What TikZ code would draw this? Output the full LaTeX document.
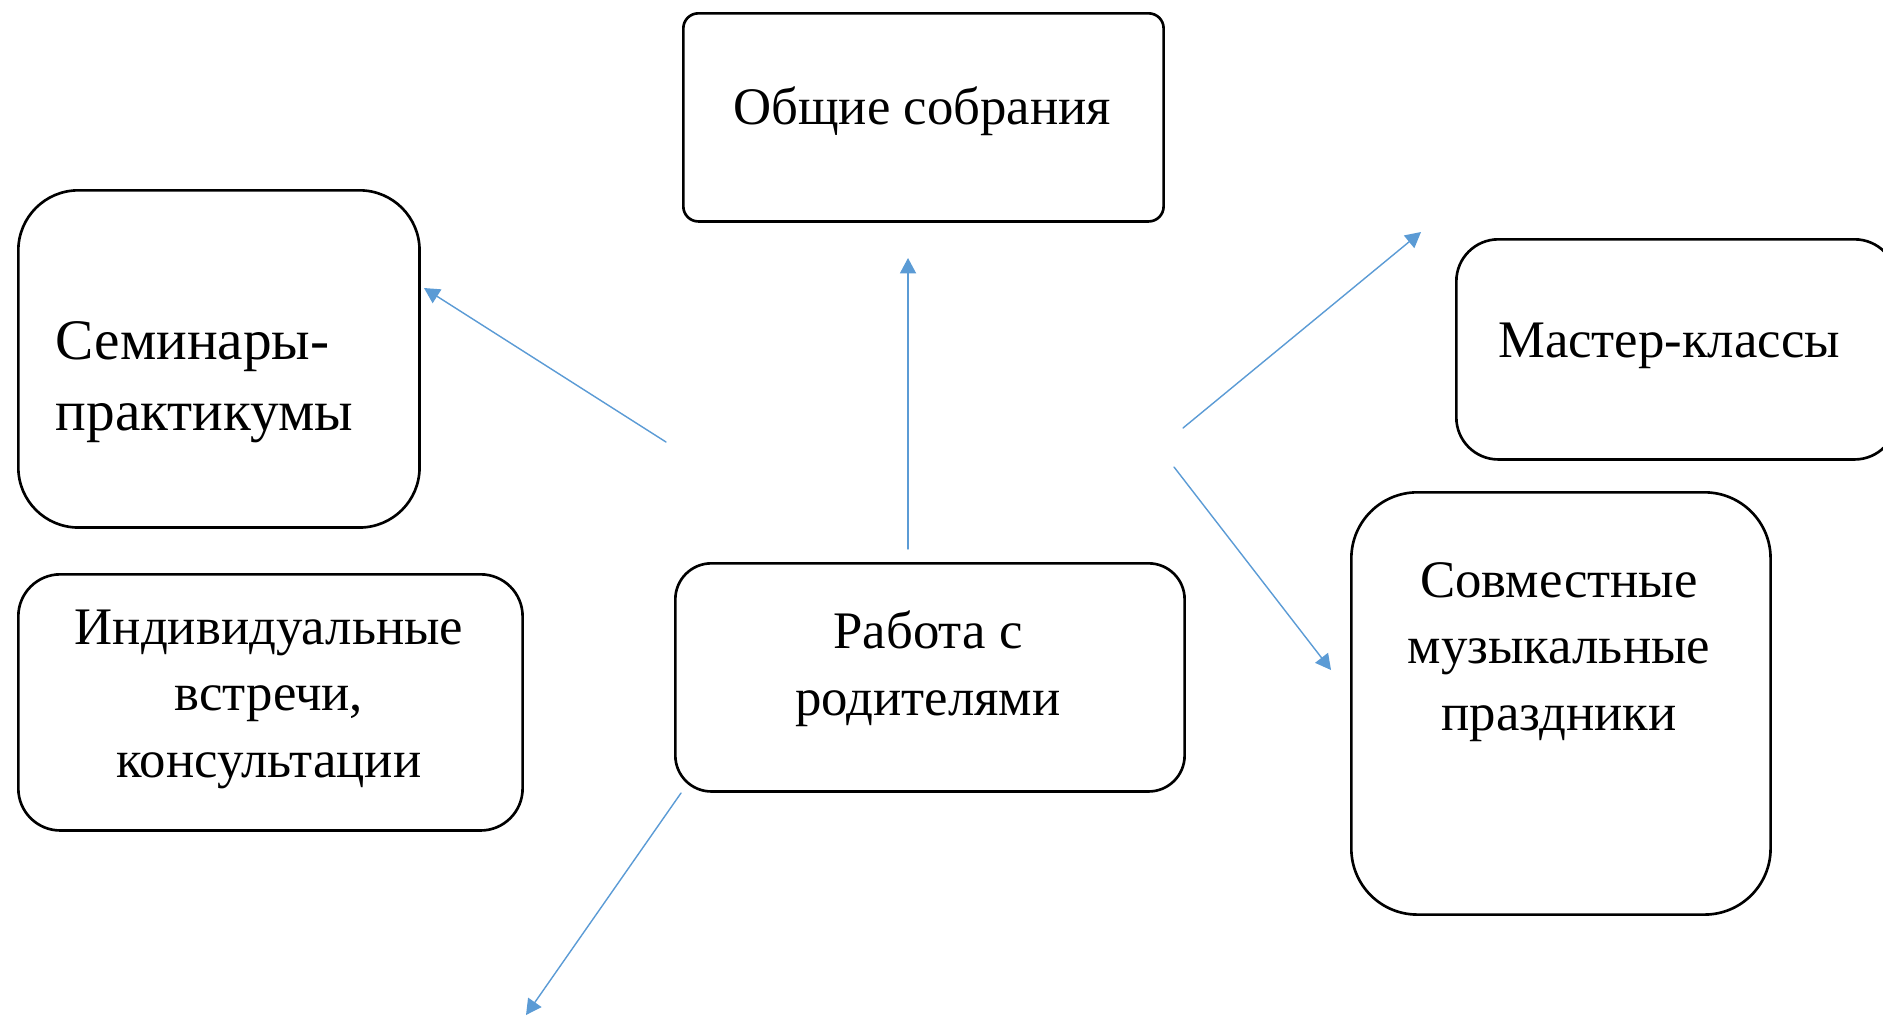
\documentclass[tikz,border=0pt]{standalone}
\usepackage{fontspec}
\setmainfont{Liberation Serif}
\usetikzlibrary{arrows.meta}
\definecolor{arrowblue}{HTML}{5B9BD5}

\begin{document}
\begin{tikzpicture}[line cap=round,line join=round,>={Triangle[length=4.4pt,width=4.6pt]},x=0.01cm,y=-0.01cm,
	box/.style={draw=black,line width=0.75pt,inner sep=0pt,anchor=north west},
	link/.style={->,color=arrowblue,line width=0.4pt},
	lbl/.style={font=\fontsize{15}{18.8}\selectfont,inner sep=0pt,align=center,anchor=base}]
			\useasboundingbox (0,0) rectangle (1883,1017);
			\clip (0,0) rectangle (1883,1017);
			% boxes
			\node[box,minimum width=4.80cm,minimum height=2.08cm,rounded corners=0.15cm] (sobr) at (682,12) {};
			\node[box,minimum width=4.01cm,minimum height=3.37cm,rounded corners=0.60cm] (semin) at (17,189) {};
			\node[box,minimum width=5.04cm,minimum height=2.56cm,rounded corners=0.42cm] (indiv) at (17,573) {};
			\node[box,minimum width=5.09cm,minimum height=2.28cm,rounded corners=0.36cm] (rabota) at (674,562) {};
			\node[box,minimum width=4.40cm,minimum height=2.20cm,rounded corners=0.42cm] (master) at (1455,238) {};
			\node[box,minimum width=4.19cm,minimum height=4.22cm,rounded corners=0.66cm] (sovm) at (1350,491) {};
			% labels (anchored at the baseline of the last line)
			\node[lbl] (sobrT) at (922,124) {Общие собрания};
			\node[lbl,font=\fontsize{16.3}{20}\selectfont,align=left,anchor=base west] (seminT) at (55,430) {Семинары-\\практикумы};
			\node[lbl] (indivT) at (269,777) {Индивидуальные\\встречи,\\консультации};
			\node[lbl] (rabotaT) at (928,715) {Работа с\\родителями};
			\node[lbl] (masterT) at (1669,357) {Мастер-классы};
			\node[lbl] (sovmT) at (1559,730) {Совместные\\музыкальные\\праздники};
			% arrows
			\coordinate (s1) at (666,442); \coordinate (e1) at (424,288);
			\coordinate (s2) at (908,549); \coordinate (e2) at (908,258);
			\coordinate (s3) at (1183,428); \coordinate (e3) at (1421,232);
			\coordinate (s4) at (1174,467); \coordinate (e4) at (1331,670);
			\coordinate (s5) at (681,793); \coordinate (e5) at (526,1015);
			\draw [link] (s1) -- (e1);
			\draw [link] (s2) -- (e2);
			\draw [link] (s3) -- (e3);
			\draw [link] (s4) -- (e4);
			\draw [link] (s5) -- (e5);
		\end{tikzpicture}
\end{document}
